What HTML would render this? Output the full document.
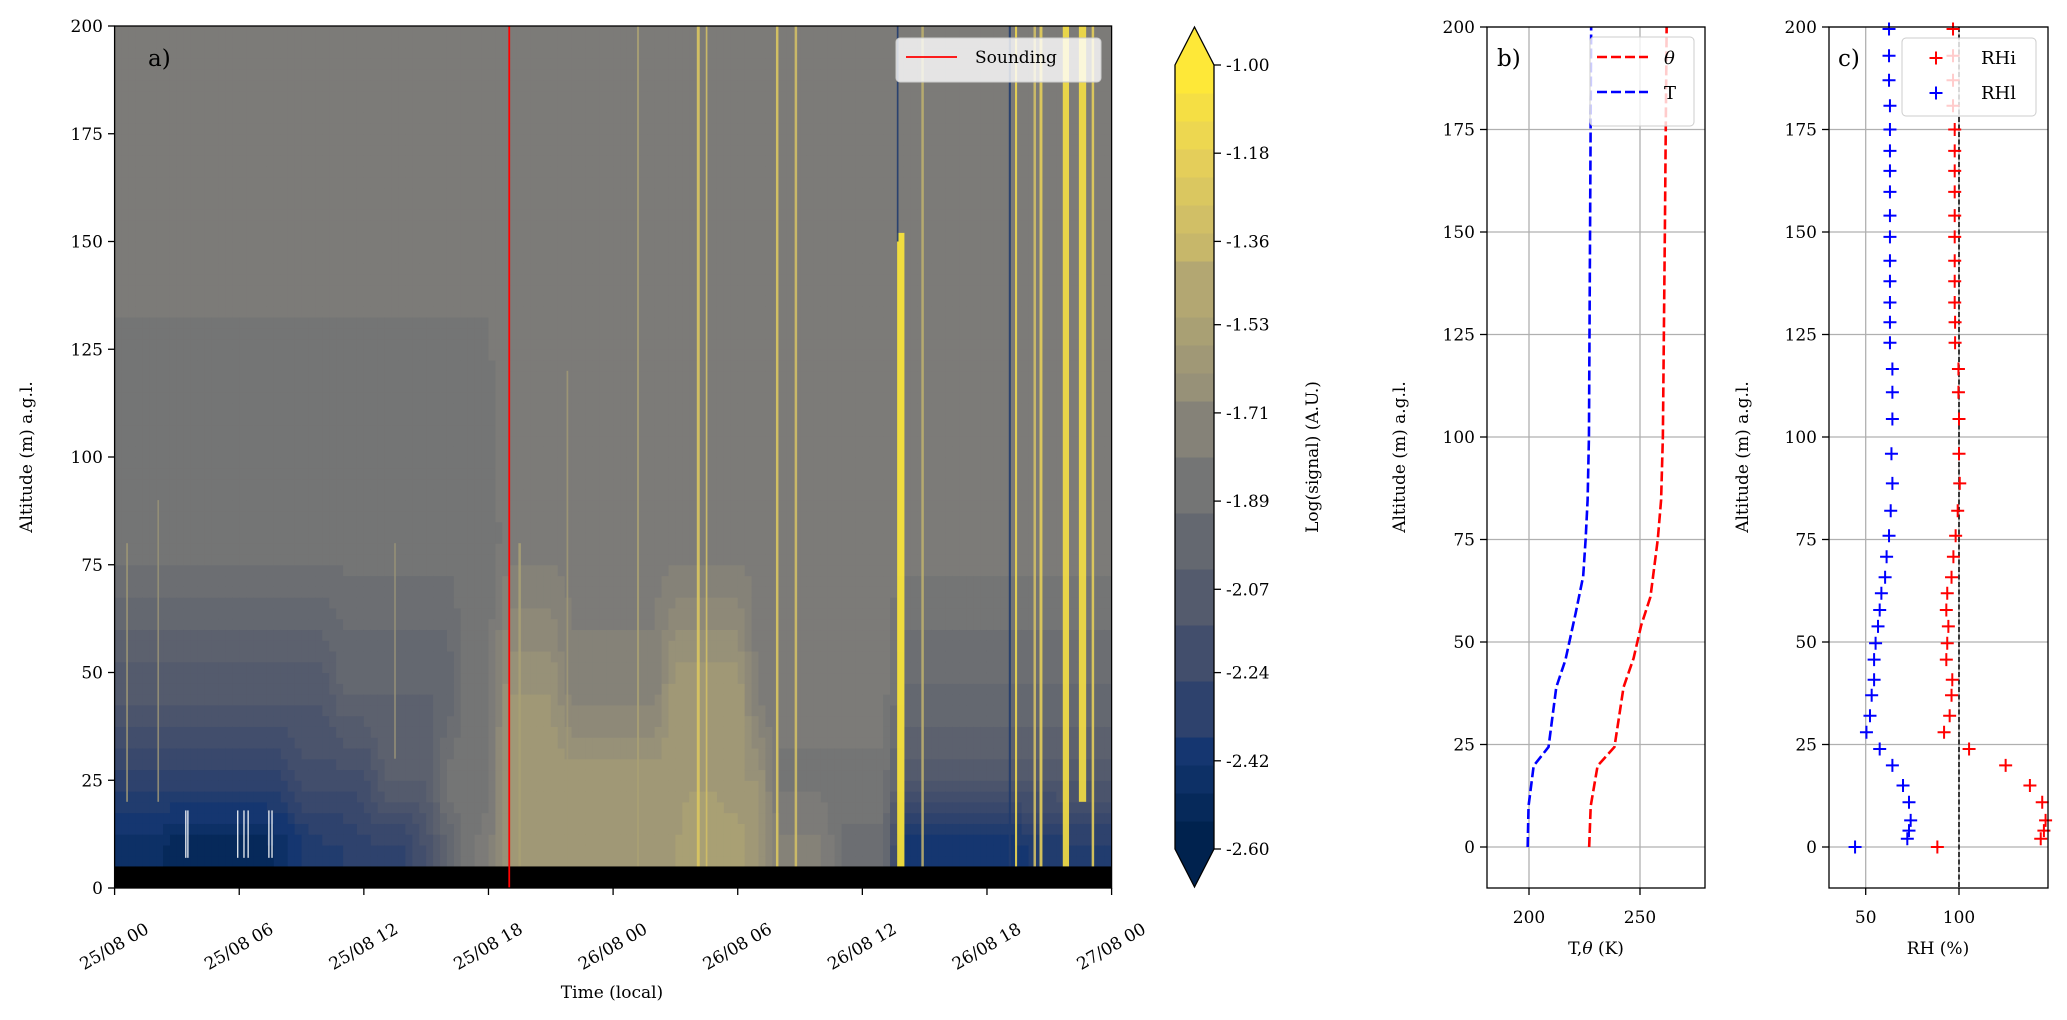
<!DOCTYPE html>
<html><head><meta charset="utf-8"><style>
html,body{margin:0;padding:0;background:#fff}
svg{display:block;font-family:"DejaVu Serif","Liberation Serif",serif}
</style></head><body>
<svg id="fig" width="2067" height="1020" viewBox="0 0 2067 1020" xmlns="http://www.w3.org/2000/svg">
<defs><clipPath id="clipA"><rect x="114.6" y="26" width="997" height="862"/></clipPath></defs>
<g id="heat" clip-path="url(#clipA)"></g>
<g id="axA"></g>
<g id="cbar"></g>
<g id="axB"></g>
<g id="axC"></g>
</svg>
<script>
// ---- panel a data (log signal by hour 0..48 at reference altitudes) ----
const hours = [0,1,2,3,4,5,6,7,8,9,10,11,12,13,14,15,16,17,18,19,20,21,22,23,24,25,26,27,28,29,30,31,32,33,34,35,36,37,38,39,40,41,42,43,44,45,46,47,48];
const refAlt = [10, 25, 45, 80, 180];
const lv10 = [-2.5,-2.5,-2.5,-2.55,-2.55,-2.55,-2.55,-2.55,-2.5,-2.4,-2.35,-2.35,-2.3,-2.3,-2.3,-2.15,-2.0,-1.85,-1.8,-1.6,-1.55,-1.55,-1.55,-1.55,-1.55,-1.55,-1.55,-1.55,-1.5,-1.5,-1.5,-1.6,-1.75,-1.75,-1.75,-1.9,-1.9,-1.9,-2.45,-2.45,-2.45,-2.45,-2.45,-2.45,-2.4,-2.4,-2.35,-2.35,-2.35];
const lv25 = [-2.3,-2.3,-2.3,-2.3,-2.3,-2.3,-2.3,-2.3,-2.3,-2.2,-2.2,-2.2,-2.2,-2.05,-2.05,-2.05,-1.85,-1.85,-1.85,-1.55,-1.55,-1.55,-1.55,-1.55,-1.55,-1.55,-1.55,-1.55,-1.55,-1.55,-1.6,-1.6,-1.85,-1.85,-1.85,-1.85,-1.85,-1.85,-2.1,-2.1,-2.1,-2.1,-2.1,-2.1,-2.1,-2.1,-2.1,-2.1,-2.1];
const lv45 = [-2.1,-2.1,-2.1,-2.1,-2.1,-2.1,-2.1,-2.1,-2.1,-2.1,-2.1,-2.0,-2.0,-2.0,-2.0,-2.0,-2.0,-1.85,-1.85,-1.6,-1.6,-1.6,-1.75,-1.75,-1.75,-1.75,-1.75,-1.55,-1.55,-1.55,-1.55,-1.8,-1.8,-1.8,-1.8,-1.8,-1.8,-1.8,-1.95,-1.95,-1.95,-1.95,-1.95,-1.95,-1.95,-1.95,-1.95,-1.95,-1.95];
const lv80 = [-1.86,-1.86,-1.86,-1.86,-1.86,-1.86,-1.86,-1.86,-1.86,-1.86,-1.86,-1.86,-1.86,-1.86,-1.86,-1.86,-1.86,-1.86,-1.86,-1.8,-1.8,-1.8,-1.8,-1.8,-1.8,-1.8,-1.8,-1.8,-1.8,-1.8,-1.8,-1.8,-1.8,-1.8,-1.8,-1.8,-1.8,-1.8,-1.8,-1.8,-1.8,-1.8,-1.8,-1.8,-1.8,-1.8,-1.8,-1.8,-1.8];
const lv180 = [-1.8,-1.8,-1.8,-1.8,-1.8,-1.8,-1.8,-1.8,-1.8,-1.8,-1.8,-1.8,-1.8,-1.8,-1.8,-1.8,-1.8,-1.8,-1.8,-1.8,-1.8,-1.8,-1.8,-1.8,-1.8,-1.8,-1.8,-1.8,-1.8,-1.8,-1.8,-1.8,-1.8,-1.8,-1.8,-1.8,-1.8,-1.8,-1.8,-1.8,-1.8,-1.8,-1.8,-1.8,-1.8,-1.8,-1.8,-1.8,-1.8];
const stripeHour   = [0.6, 2.1, 13.5, 19.5, 21.8, 25.2, 28.1, 28.5, 31.9, 32.8, 37.85, 37.7, 38.9, 43.1, 43.4, 44.3, 44.6, 45.8, 46.6, 47.1];
const stripeVal    = [-1.6,-1.65,-1.65,-1.5,-1.55,-1.5,-1.25,-1.3,-1.25,-1.3,-1.0,-2.4,-1.4,-2.35,-1.1,-1.3,-1.15,-1.05,-1.05,-1.2];
const stripeWidth  = [0.08,0.08,0.08,0.12,0.08,0.1,0.14,0.08,0.12,0.12,0.35,0.08,0.12,0.1,0.1,0.12,0.14,0.3,0.35,0.12];
const stripeBottom = [20,20,30,5,5,5,5,5,5,5,5,150,5,5,5,5,5,5,20,5];
const stripeTop    = [80,90,80,80,120,200,200,200,200,200,152,200,200,200,200,200,200,200,200,200];
const speckHour = [3.4, 3.5, 5.9, 6.2, 6.4, 7.4, 7.55];
const soundingHour = 19.0;
const aTicksY = [0,25,50,75,100,125,150,175,200];
const aTickLabels = ["25/08 00","25/08 06","25/08 12","25/08 18","26/08 00","26/08 06","26/08 12","26/08 18","27/08 00"];
const cbTicks = [-1.00,-1.18,-1.36,-1.53,-1.71,-1.89,-2.07,-2.24,-2.42,-2.60];
// ---- panel b data ----
const profAlt = [0, 10, 19.8, 24.4, 39, 45.6, 57, 66, 75, 84.6, 100, 150, 200];
const tempT   = [199.4, 199.8, 202.1, 208.8, 212.3, 216.4, 221, 224.4, 225.5, 226.4, 227, 227.5, 228];
const thetaAlt = [0, 10, 19.8, 24.4, 39, 46, 54, 61, 75, 84.6, 100, 150, 200];
const thetaV  = [227.1, 227.8, 230.9, 238.5, 242.6, 247.1, 250.5, 254.7, 258, 259.5, 260.3, 261.2, 262];
// ---- panel c data ----
const rhAlt = [0,2,4,6.5,10.9,15,19.9,23.9,28,32,37,40.8,45.7,49.7,53.8,57.8,61.9,65.8,70.8,75.9,82,88.7,95.9,104.4,110.9,116.6,123,128,132.8,138,143,148.8,154,159.8,164.9,169.8,175,180.8,187,193,199.5];
const rhl = [44.3,72.3,73.2,74.1,73.2,70,64.3,57.5,50.4,52.3,53.2,54.5,54.5,55.3,56.6,57.5,58.4,60.4,61.2,62.5,63.4,64.3,63.8,64.3,64.3,64.3,63,63,63,63,63,63,63,63,63,63,63,63,62.5,62.5,62.5];
const rhi = [88.4,143.8,145.5,146.4,144.6,138,125,105.4,92,95,96,96.4,93.2,93.7,94.3,93.2,93.7,96,97,98.2,99.3,100.4,100,100,99.7,99.7,97.9,97.9,97.7,97.7,97.7,97.7,97.7,97.7,97.7,97.7,97.7,96.8,96.8,96.8,96.8];

const NS='http://www.w3.org/2000/svg';
function mk(parent, tag, attrs, txt){const e=document.createElementNS(NS,tag);for(const k in attrs)e.setAttribute(k,attrs[k]);if(txt!==undefined)e.textContent=txt;parent.appendChild(e);return e;}
const xA = h => 114.6 + h*(997/48);
const yA = v => 888 - v*4.31;
const xB = k => 1529 + (k-200)*2.22;
const yP = v => 847 - v*4.1;
const xC = r => 1865.7 + (r-50)*1.866;
const stops=['#00224e','#123570','#35456c','#4f576c','#666970','#7c7b78','#958f78','#afa473','#cbba69','#e6d059','#fee838'];
function hx(c){return [parseInt(c.slice(1,3),16),parseInt(c.slice(3,5),16),parseInt(c.slice(5,7),16)];}
function cmap(v){let t=(v+2.6)/1.6;t=Math.max(0,Math.min(1,t));t=Math.round(t*28)/28;const f=t*10,i=Math.min(9,Math.floor(f)),r=f-i;const a=hx(stops[i]),b=hx(stops[i+1]);return 'rgb('+a.map((x,j)=>Math.round(x+(b[j]-x)*r)).join(',')+')';}
function lerp(arr,h){const i=Math.min(hours.length-2,Math.floor(h));const r=h-i;return arr[i]+(arr[i+1]-arr[i])*r;}
const levels=[lv10,lv25,lv45,lv80,lv180];
function valAt(h,alt){const vs=levels.map(L=>lerp(L,h));if(alt<=refAlt[0])return vs[0];for(let i=0;i<refAlt.length-1;i++){if(alt<=refAlt[i+1]){const r=(alt-refAlt[i])/(refAlt[i+1]-refAlt[i]);return vs[i]+(vs[i+1]-vs[i])*r;}}return vs[vs.length-1];}

const heat=document.getElementById('heat');
const dh=1/3, da=2.5;
for(let h=0;h<48;h+=dh){for(let a=5;a<200;a+=da){
  const c=mk(heat,'rect',{x:xA(h).toFixed(2),y:yA(a+da).toFixed(2),width:(xA(h+dh)-xA(h)+0.6).toFixed(2),height:(yA(a)-yA(a+da)+0.6).toFixed(2),fill:cmap(valAt(h+dh/2,a+da/2))});
  
  
}}
stripeHour.forEach((h,i)=>{
  const w=xA(h+stripeWidth[i]/2)-xA(h-stripeWidth[i]/2);
  const s=mk(heat,'rect',{x:xA(h-stripeWidth[i]/2),y:yA(stripeTop[i]),width:Math.max(1.5,w),height:yA(stripeBottom[i])-yA(stripeTop[i]),fill:cmap(stripeVal[i]),'fill-opacity':0.9});
  
  
});
speckHour.forEach(h=>{
  const s=mk(heat,'rect',{x:xA(h),y:yA(18),width:1.2,height:yA(7)-yA(18),fill:'#ffffff'});
  
  
});
const band=mk(heat,'rect',{x:114.6,y:yA(5),width:997,height:yA(0)-yA(5),fill:'#000'});


const snd=mk(heat,'line',{x1:xA(soundingHour),x2:xA(soundingHour),y1:26,y2:888,stroke:'#ff0000','stroke-width':1.8});



const axA=document.getElementById('axA');
mk(axA,'rect',{x:114.6,y:26,width:997,height:862,fill:'none',stroke:'#000','stroke-width':1.3});
aTicksY.forEach(v=>{mk(axA,'line',{x1:108,x2:114.6,y1:yA(v),y2:yA(v),stroke:'#000','stroke-width':1.3});
  const t=mk(axA,'text',{x:103,y:yA(v)+6,'text-anchor':'end','font-size':17},String(v));
  
  });
aTickLabels.forEach((lab,i)=>{const x=xA(i*6);mk(axA,'line',{x1:x,x2:x,y1:888,y2:895,stroke:'#000','stroke-width':1.3});
  const t=mk(axA,'text',{x:x,y:947,'text-anchor':'middle','dominant-baseline':'central','font-size':17,transform:'rotate(-30 '+x+' 947)'},lab);
  
  });
let t=mk(axA,'text',{x:612,y:998,'text-anchor':'middle','font-size':17},'Time (local)');


t=mk(axA,'text',{x:32,y:457,'text-anchor':'middle','font-size':17,transform:'rotate(-90 32 457)'},'Altitude (m) a.g.l.');


t=mk(axA,'text',{x:148,y:66,'font-size':23},'a)');


let lg=mk(axA,'g',{});


mk(lg,'rect',{x:896,y:38,width:205,height:44,rx:4,fill:'#ffffff','fill-opacity':0.8,stroke:'#cccccc'});
mk(lg,'line',{x1:906,x2:957,y1:57,y2:57,stroke:'#ff0000','stroke-width':1.8});
mk(lg,'text',{x:975,y:63,'font-size':17},'Sounding');

const cb=document.getElementById('cbar');
const cbY=v=>849-(v+2.6)/1.6*784;
for(let i=0;i<28;i++){const v0=-2.6+i*1.6/28,v1=v0+1.6/28;mk(cb,'rect',{x:1175,y:cbY(v1),width:39,height:cbY(v0)-cbY(v1)+0.5,fill:cmap((v0+v1)/2)});}
mk(cb,'polygon',{points:'1175,65 1194.5,27 1214,65',fill:cmap(-1.0)});
mk(cb,'polygon',{points:'1175,849 1194.5,887 1214,849',fill:cmap(-2.6)});
mk(cb,'polygon',{points:'1175,65 1194.5,27 1214,65 1214,849 1194.5,887 1175,849',fill:'none',stroke:'#000','stroke-width':1.3});
cbTicks.forEach(v=>{mk(cb,'line',{x1:1214,x2:1221,y1:cbY(v),y2:cbY(v),stroke:'#000','stroke-width':1.3});
  const tt=mk(cb,'text',{x:1226,y:cbY(v)+6,'font-size':17},v.toFixed(2));
  
  });
t=mk(cb,'text',{x:1318,y:457,'text-anchor':'middle','font-size':17,transform:'rotate(-90 1318 457)'},'Log(signal) (A.U.)');



function frame(g,x0,x1,xticks,xfun){
  mk(g,'rect',{x:x0,y:27,width:x1-x0,height:861,fill:'#fff'});
  aTicksY.forEach(v=>mk(g,'line',{x1:x0,x2:x1,y1:yP(v),y2:yP(v),stroke:'#b0b0b0','stroke-width':1.3}));
  xticks.forEach(v=>mk(g,'line',{x1:xfun(v),x2:xfun(v),y1:27,y2:888,stroke:'#b0b0b0','stroke-width':1.3}));
  aTicksY.forEach(v=>{mk(g,'line',{x1:x0-7,x2:x0,y1:yP(v),y2:yP(v),stroke:'#000','stroke-width':1.3});
    const tt=mk(g,'text',{x:x0-12,y:yP(v)+6,'text-anchor':'end','font-size':17},String(v));
    
    });
  xticks.forEach(v=>{mk(g,'line',{x1:xfun(v),x2:xfun(v),y1:888,y2:895,stroke:'#000','stroke-width':1.3});
    const tt=mk(g,'text',{x:xfun(v),y:923,'text-anchor':'middle','font-size':17},String(v));
    
    });
}
const axB=document.getElementById('axB');
frame(axB,1487,1705,[200,250],xB);
let p=mk(axB,'polyline',{points:tempT.map((k,i)=>xB(k)+','+yP(profAlt[i])).join(' '),fill:'none',stroke:'#0000ff','stroke-width':2.6,'stroke-dasharray':'10,4'});


p=mk(axB,'polyline',{points:thetaV.map((k,i)=>xB(k)+','+yP(thetaAlt[i])).join(' '),fill:'none',stroke:'#ff0000','stroke-width':2.6,'stroke-dasharray':'10,4'});


mk(axB,'rect',{x:1487,y:27,width:218,height:861,fill:'none',stroke:'#000','stroke-width':1.3});
t=mk(axB,'text',{x:1497,y:66,'font-size':23},'b)');


t=mk(axB,'text',{x:1405,y:457,'text-anchor':'middle','font-size':17,transform:'rotate(-90 1405 457)'},'Altitude (m) a.g.l.');


t=mk(axB,'text',{x:1596,y:954,'text-anchor':'middle','font-size':17});
t.innerHTML='T,<tspan font-style="italic">θ</tspan> (K)';


lg=mk(axB,'g',{});


mk(lg,'rect',{x:1590,y:37,width:104,height:89,rx:4,fill:'#ffffff','fill-opacity':0.8,stroke:'#cccccc'});
mk(lg,'line',{x1:1597,x2:1648,y1:57,y2:57,stroke:'#ff0000','stroke-width':2.6,'stroke-dasharray':'10,4'});
mk(lg,'text',{x:1664,y:64,'font-size':18,'font-style':'italic'},'θ');
mk(lg,'line',{x1:1597,x2:1648,y1:92,y2:92,stroke:'#0000ff','stroke-width':2.6,'stroke-dasharray':'10,4'});
mk(lg,'text',{x:1664,y:99,'font-size':18},'T');

const axC=document.getElementById('axC');
frame(axC,1829,2048,[50,100],xC);
function plus(g,x,y,col,name){const q=mk(g,'path',{d:'M'+(x-6.5)+' '+y+'h13M'+x+' '+(y-6.5)+'v13',stroke:col,'stroke-width':2,fill:'none'});
  
  }
mk(axC,'line',{x1:xC(100),x2:xC(100),y1:27,y2:888,stroke:'#000','stroke-width':1.5,'stroke-dasharray':'5,2.5'});
rhAlt.forEach((a,i)=>{plus(axC,xC(rhi[i]),yP(a),'#ff0000','rhi-marker');});
rhAlt.forEach((a,i)=>{plus(axC,xC(rhl[i]),yP(a),'#0000ff','rhl-marker');});
mk(axC,'rect',{x:1829,y:27,width:219,height:861,fill:'none',stroke:'#000','stroke-width':1.3});
t=mk(axC,'text',{x:1838,y:66,'font-size':23},'c)');


t=mk(axC,'text',{x:1748,y:457,'text-anchor':'middle','font-size':17,transform:'rotate(-90 1748 457)'},'Altitude (m) a.g.l.');


t=mk(axC,'text',{x:1938,y:954,'text-anchor':'middle','font-size':17},'RH (%)');


lg=mk(axC,'g',{});


mk(lg,'rect',{x:1902,y:38,width:134,height:78,rx:4,fill:'#ffffff','fill-opacity':0.8,stroke:'#cccccc'});
plus(lg,1936,58,'#ff0000','legend-rhi-marker');
mk(lg,'text',{x:1981,y:64,'font-size':18},'RHi');
plus(lg,1936,93,'#0000ff','legend-rhl-marker');
mk(lg,'text',{x:1981,y:99,'font-size':18},'RHl');
</script>
</body></html>
